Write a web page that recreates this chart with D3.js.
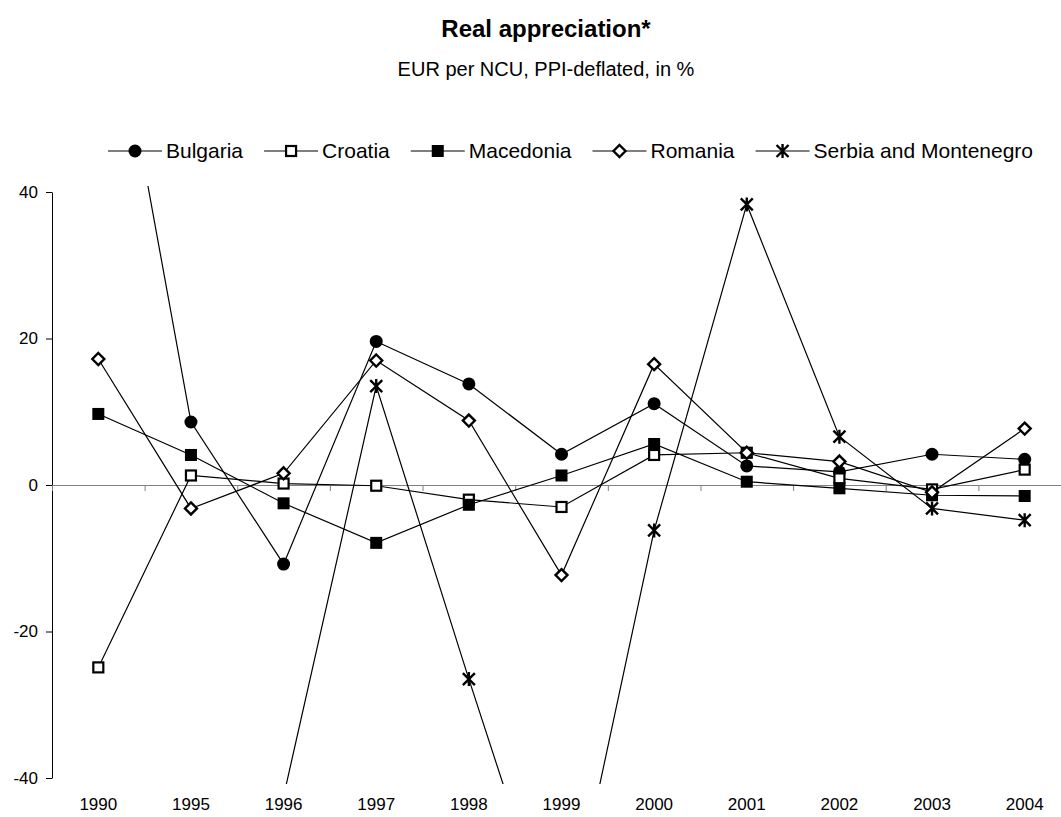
<!DOCTYPE html>
<html>
<head>
<meta charset="utf-8">
<script src="https://cdn.jsdelivr.net/npm/d3@7"></script>
<style>
    body { margin: 0; background: #fff; }
    svg { display: block; font-family: Arial, "Liberation Sans", sans-serif; }
</style>
</head>
<body>
<div id="chart"></div>
<script>
const years = ["1990", "1995", "1996", "1997", "1998", "1999", "2000", "2001", "2002", "2003", "2004"];
const yTicks = [-40, -20, 0, 20, 40];

const bulgaria   = [78, 8.6, -10.8, 19.6, 13.8, 4.2, 11.1, 2.6, 1.8, 4.2, 3.5];
const croatia    = [-24.9, 1.3, 0.2, -0.1, -2.0, -3.0, 4.1, 4.4, 0.9, -0.6, 2.1];
const macedonia  = [9.7, 4.1, -2.5, -7.9, -2.7, 1.3, 5.6, 0.45, -0.45, -1.4, -1.5];
const romania    = [17.2, -3.2, 1.6, 17.0, 8.8, -12.3, 16.5, 4.4, 3.2, -1.0, 7.7];
const serbia     = [null, null, -42.5, 13.5, -26.5, -65.3, -6.2, 38.3, 6.6, -3.2, -4.8];

const seriesNames = ["Bulgaria", "Croatia", "Macedonia", "Romania", "Serbia and Montenegro"];
const seriesValues = [bulgaria, croatia, macedonia, romania, serbia];
const seriesMarkers = ["circle", "openSquare", "square", "diamond", "asterisk"];

const width = 1061, height = 817;
const margin = { top: 192, right: -10, bottom: 39, left: 52 };

const svg = d3.select("#chart").append("svg")
    .attr("width", width)
    .attr("height", height);

const xScale = d3.scaleBand()
    .domain(years)
    .range([margin.left, width - margin.right])
    .padding(0);

// boundaries between categories, for the x tick marks
const xEdge = d3.scaleLinear()
    .domain([0, years.length])
    .range([margin.left, width - margin.right]);

const yScale = d3.scaleLinear()
    .domain([-40, 40])
    .range([height - margin.bottom, margin.top]);

const cx = d => xScale(d) + xScale.bandwidth() / 2;

// titles
svg.append("text")
    .attr("x", 546)
    .attr("y", 37)
    .attr("text-anchor", "middle")
    .style("font-size", "24px")
    .style("font-weight", "bold")
    .text("Real appreciation*");

svg.append("text")
    .attr("x", 546)
    .attr("y", 76)
    .attr("text-anchor", "middle")
    .style("font-size", "20px")
    .text("EUR per NCU, PPI-deflated, in %");

// y axis
const yAxis = svg.append("g")
    .attr("transform", `translate(${margin.left}, 0)`)
    .call(d3.axisLeft(yScale).tickValues(yTicks).tickFormat(d => String(d))
        .tickSize(6).tickPadding(8).tickSizeOuter(0));
yAxis.selectAll("text").style("font-size", "17px").attr("fill", "#000");
yAxis.select(".domain").attr("stroke", "#000");

// zero line with tick marks
const xAxis = svg.append("g")
    .attr("transform", `translate(0, ${yScale(0)})`)
    .call(d3.axisBottom(xEdge).tickValues(d3.range(years.length + 1)).tickSize(6).tickSizeOuter(0).tickFormat(""));
xAxis.select(".domain").attr("stroke", "#808080");
xAxis.selectAll(".tick line").attr("stroke", "#808080");

// category labels at the bottom
const xLabels = svg.append("g")
    .attr("transform", `translate(0, ${height - margin.bottom})`)
    .call(d3.axisBottom(xScale).tickSize(0).tickPadding(20));
xLabels.select(".domain").remove();
xLabels.selectAll("text").style("font-size", "17px").attr("fill", "#000");

// clip region for the plot
svg.append("clipPath")
    .attr("id", "plotClip")
    .append("rect")
    .attr("x", margin.left)
    .attr("y", yScale(40) - 6)
    .attr("width", width - margin.left)
    .attr("height", yScale(-40) - yScale(40) + 12);

const plot = svg.append("g").attr("clip-path", "url(#plotClip)");

function drawMarker(g, type, x, y) {
    if (type === "circle") {
        g.append("circle").attr("cx", x).attr("cy", y).attr("r", 6.5).attr("fill", "#000");
    } else if (type === "square") {
        g.append("rect").attr("x", x - 6).attr("y", y - 6).attr("width", 12).attr("height", 12).attr("fill", "#000");
    } else if (type === "openSquare") {
        g.append("rect").attr("x", x - 5).attr("y", y - 5).attr("width", 10).attr("height", 10)
            .attr("fill", "#fff").attr("stroke", "#000").attr("stroke-width", 2.2);
    } else if (type === "diamond") {
        g.append("path").attr("d", `M${x},${y - 6}L${x + 6},${y}L${x},${y + 6}L${x - 6},${y}Z`)
            .attr("fill", "#fff").attr("stroke", "#000").attr("stroke-width", 2.4);
    } else if (type === "asterisk") {
        g.append("path")
            .attr("d", `M${x - 6},${y - 6}L${x + 6},${y + 6}M${x - 6},${y + 6}L${x + 6},${y - 6}M${x},${y - 7}L${x},${y + 7}`)
            .attr("stroke", "#000").attr("stroke-width", 2.4).attr("fill", "none");
    }
}

const line = d3.line()
    .defined(d => d.v !== null)
    .x(d => cx(d.year))
    .y(d => yScale(d.v));

seriesNames.forEach((name, i) => {
    const pts = years.map((year, j) => ({ year, v: seriesValues[i][j] }));
    plot.append("path")
        .datum(pts)
        .attr("d", line)
        .attr("fill", "none")
        .attr("stroke", "#000")
        .attr("stroke-width", 1.2);
    const mg = plot.append("g");
    pts.filter(d => d.v !== null).forEach(d => drawMarker(mg, seriesMarkers[i], cx(d.year), yScale(d.v)));
});

// legend
const legend = svg.append("g");
let lx = 108;
const ly = 151;
seriesNames.forEach((name, i) => {
    legend.append("line")
        .attr("x1", lx).attr("x2", lx + 54)
        .attr("y1", ly).attr("y2", ly)
        .attr("stroke", "#000").attr("stroke-width", 1.2);
    drawMarker(legend, seriesMarkers[i], lx + 27, ly);
    const t = legend.append("text")
        .attr("x", lx + 58)
        .attr("y", ly + 7)
        .style("font-size", "21px")
        .text(name);
    lx += 58 + t.node().getComputedTextLength() + 21;
});
</script>
</body>
</html>
